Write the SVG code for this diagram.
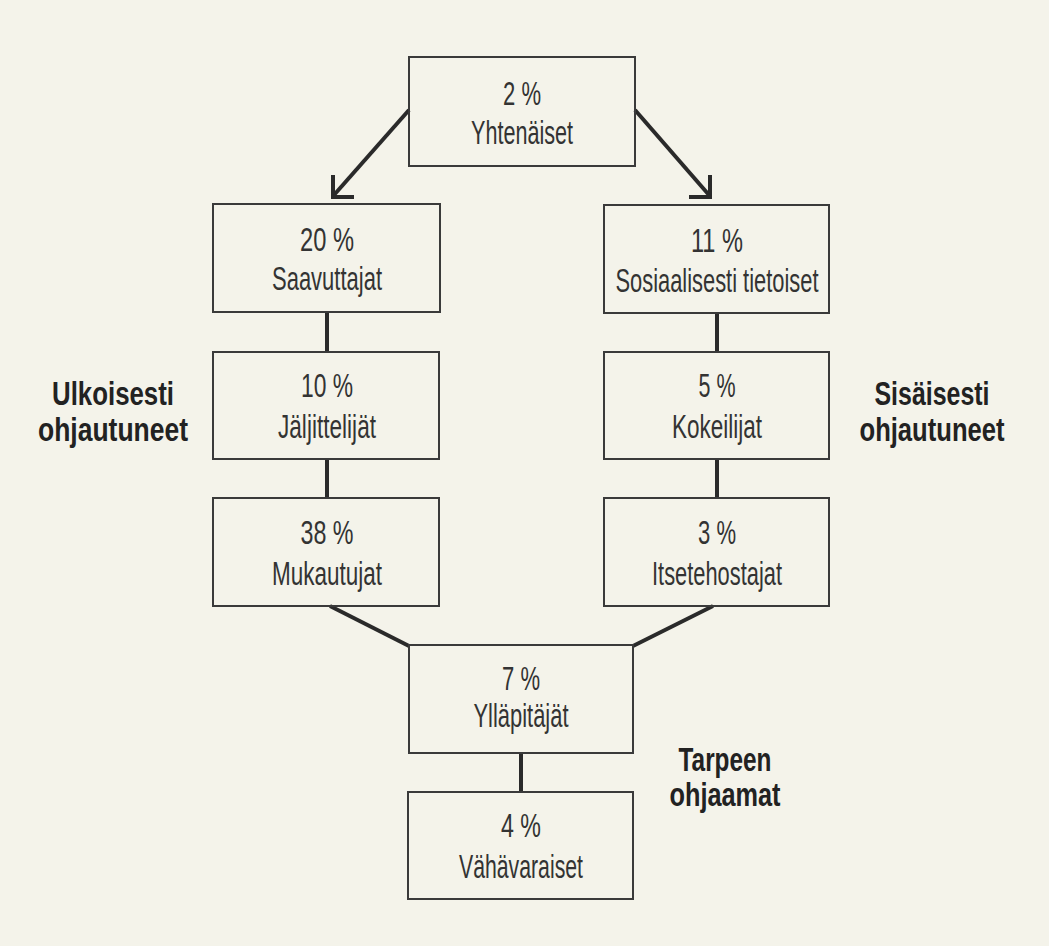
<svg xmlns="http://www.w3.org/2000/svg" width="1049" height="946" viewBox="0 0 1049 946">
<style>
.box{fill:none;stroke:#3a3a3a;stroke-width:2}
.t{font-family:"Liberation Sans",Arial,sans-serif;font-size:33px;fill:#333;text-anchor:middle}
.b{font-family:"Liberation Sans",Arial,sans-serif;font-size:33px;font-weight:bold;fill:#222;text-anchor:middle}
.c{fill:none;stroke:#2a2a2a;stroke-width:4;stroke-linecap:butt}
</style>
<rect x="0" y="0" width="1049" height="946" fill="#f4f3ea"/>
<g id="connectors">
<line class="c" x1="409" y1="110" x2="334" y2="195"/>
<polyline class="c" points="333,175 333,197 354,197"/>
<line class="c" x1="635" y1="110" x2="709" y2="195"/>
<polyline class="c" points="710,175 710,197 689,197"/>
<line class="c" x1="327" y1="312" x2="327" y2="352"/>
<line class="c" x1="327" y1="459" x2="327" y2="498"/>
<line class="c" x1="717" y1="313" x2="717" y2="352"/>
<line class="c" x1="717" y1="459" x2="717" y2="498"/>
<line class="c" x1="330" y1="606" x2="409" y2="646"/>
<line class="c" x1="713" y1="606" x2="633" y2="646"/>
<line class="c" x1="521" y1="753" x2="521" y2="792"/>
</g>
<g id="n-yhtenaiset">
<rect class="box" x="409" y="57" width="226" height="109"/>
<text class="t" x="522" y="105" textLength="38" lengthAdjust="spacingAndGlyphs">2 %</text>
<text class="t" x="522" y="144" textLength="102" lengthAdjust="spacingAndGlyphs">Yhtenäiset</text>
</g>
<g id="n-saavuttajat">
<rect class="box" x="213" y="204" width="227" height="108"/>
<text class="t" x="327" y="251" textLength="54" lengthAdjust="spacingAndGlyphs">20 %</text>
<text class="t" x="327" y="290" textLength="110" lengthAdjust="spacingAndGlyphs">Saavuttajat</text>
</g>
<g id="n-jaljittelijat">
<rect class="box" x="213" y="352" width="226" height="107"/>
<text class="t" x="327" y="397" textLength="52" lengthAdjust="spacingAndGlyphs">10 %</text>
<text class="t" x="327" y="438" textLength="98" lengthAdjust="spacingAndGlyphs">Jäljittelijät</text>
</g>
<g id="n-mukautujat">
<rect class="box" x="213" y="498" width="226" height="108"/>
<text class="t" x="327" y="544" textLength="53" lengthAdjust="spacingAndGlyphs">38 %</text>
<text class="t" x="327" y="585" textLength="110" lengthAdjust="spacingAndGlyphs">Mukautujat</text>
</g>
<g id="n-sosiaalisesti">
<rect class="box" x="604" y="205" width="225" height="108"/>
<text class="t" x="717" y="252" textLength="52" lengthAdjust="spacingAndGlyphs">11 %</text>
<text class="t" x="717" y="292" textLength="203" lengthAdjust="spacingAndGlyphs">Sosiaalisesti tietoiset</text>
</g>
<g id="n-kokeilijat">
<rect class="box" x="604" y="352" width="225" height="107"/>
<text class="t" x="717" y="397" textLength="37" lengthAdjust="spacingAndGlyphs">5 %</text>
<text class="t" x="717" y="438" textLength="90" lengthAdjust="spacingAndGlyphs">Kokeilijat</text>
</g>
<g id="n-itsetehostajat">
<rect class="box" x="604" y="498" width="225" height="108"/>
<text class="t" x="717" y="544" textLength="38" lengthAdjust="spacingAndGlyphs">3 %</text>
<text class="t" x="717" y="585" textLength="130" lengthAdjust="spacingAndGlyphs">Itsetehostajat</text>
</g>
<g id="n-yllapitajat">
<rect class="box" x="409" y="645" width="224" height="108"/>
<text class="t" x="521" y="690" textLength="38" lengthAdjust="spacingAndGlyphs">7 %</text>
<text class="t" x="521" y="727" textLength="95" lengthAdjust="spacingAndGlyphs">Ylläpitäjät</text>
</g>
<g id="n-vahavaraiset">
<rect class="box" x="408" y="792" width="225" height="107"/>
<text class="t" x="521" y="837" textLength="40" lengthAdjust="spacingAndGlyphs">4 %</text>
<text class="t" x="521" y="878" textLength="124" lengthAdjust="spacingAndGlyphs">Vähävaraiset</text>
</g>
<g id="label-ulkoisesti">
<text class="b" x="113" y="405" textLength="122" lengthAdjust="spacingAndGlyphs">Ulkoisesti</text>
<text class="b" x="113" y="441" textLength="150" lengthAdjust="spacingAndGlyphs">ohjautuneet</text>
</g>
<g id="label-sisaisesti">
<text class="b" x="932" y="405" textLength="115" lengthAdjust="spacingAndGlyphs">Sisäisesti</text>
<text class="b" x="932" y="441" textLength="145" lengthAdjust="spacingAndGlyphs">ohjautuneet</text>
</g>
<g id="label-tarpeen">
<text class="b" x="725" y="771" textLength="93" lengthAdjust="spacingAndGlyphs">Tarpeen</text>
<text class="b" x="725" y="806" textLength="111" lengthAdjust="spacingAndGlyphs">ohjaamat</text>
</g>
</svg>
